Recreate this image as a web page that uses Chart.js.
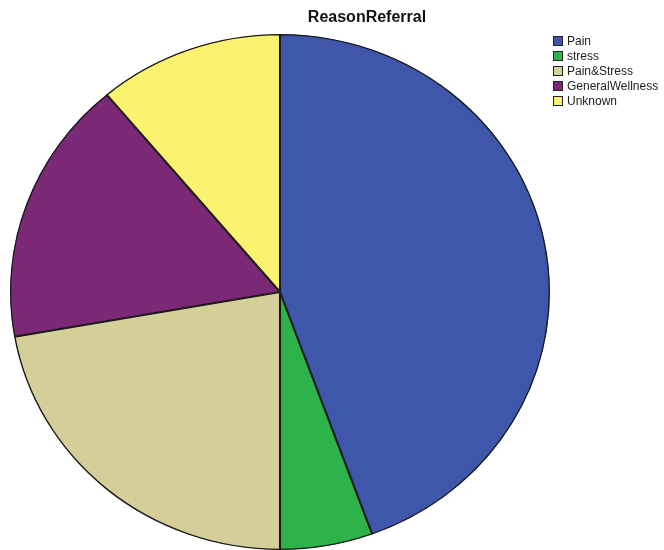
<!DOCTYPE html>
<html>
<head>
<meta charset="utf-8">
<script src="https://cdn.jsdelivr.net/npm/chart.js@4/dist/chart.umd.min.js"></script>
<style>
  html, body { margin: 0; padding: 0; background: #fff; }
  #wrap { width: 664px; height: 550px; position: relative; }
</style>
</head>
<body>
<div id="wrap"><canvas id="pie"></canvas></div>
<script>
	'use strict';

	// chart data
	const chartTitle = 'ReasonReferral';
	const reasons = ['Pain', 'stress', 'Pain&Stress', 'GeneralWellness', 'Unknown'];
	const counts = [32, 4, 16, 12, 8];
	const sliceColors = ['#3F57AA', '#2DB34A', '#D4CE98', '#7B2877', '#FBF36F'];

	// SPSS output is slightly wider than tall, stretch the arcs a bit
	const stretchX = 270 / 258;

	const ellipsePlugin = {
		id: 'ellipse',
		beforeDatasetsDraw(chart) {
			const meta = chart.getDatasetMeta(0);
			const arc = meta.data[0];
			if (!arc) return;
			const ctx = chart.ctx;
			ctx.save();
			ctx.translate(arc.x, arc.y);
			ctx.scale(stretchX, 1);
			ctx.translate(-arc.x, -arc.y);
		},
		afterDatasetsDraw(chart) {
			chart.ctx.restore();
		}
	};

	// title and legend drawn like the SPSS viewer does
	const spssDecor = {
		id: 'spssDecor',
		afterDraw(chart) {
			const ctx = chart.ctx;
			ctx.save();
			ctx.fillStyle = '#111';
			ctx.font = 'bold 16px "Liberation Sans", Arial, sans-serif';
			ctx.textAlign = 'center';
			ctx.textBaseline = 'middle';
			ctx.fillText(chartTitle, 367, 18);

			ctx.font = '12px "Liberation Sans", Arial, sans-serif';
			ctx.textAlign = 'left';
			const colors = chart.data.datasets[0].backgroundColor;
			chart.data.labels.forEach((label, i) => {
				const y = 41 + i * 15;
				ctx.fillStyle = colors[i];
				ctx.fillRect(553, y - 5, 10, 10);
				ctx.strokeStyle = '#222';
				ctx.lineWidth = 1;
				ctx.strokeRect(553.5, y - 4.5, 9, 9);
				ctx.fillStyle = '#222';
				ctx.fillText(label, 567, y + 1);
			});
			ctx.restore();
		}
	};

	new Chart(document.getElementById('pie'), {
		type: 'pie',
		data: {
			labels: reasons,
			datasets: [{
				data: counts,
				backgroundColor: sliceColors,
				borderColor: '#1a1a1a',
				borderWidth: 1,
				borderAlign: 'inner'
			}]
		},
		options: {
			responsive: true,
			maintainAspectRatio: false,
			animation: false,
			layout: {
				padding: { left: 22, right: 126, top: 34, bottom: 0 }
			},
			plugins: {
				legend: { display: false },
				title: { display: false },
				tooltip: { enabled: false }
			}
		},
		plugins: [ellipsePlugin, spssDecor]
	});
</script>
</body>
</html>
